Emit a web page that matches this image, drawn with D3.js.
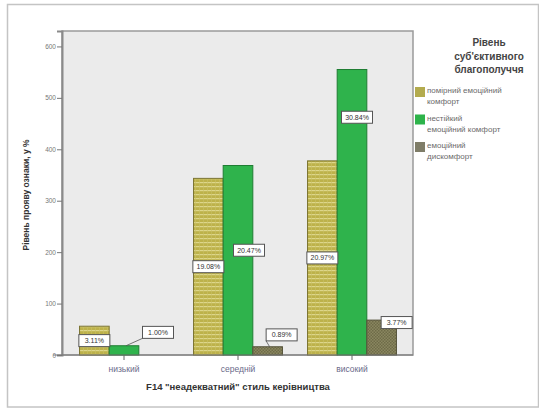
<!DOCTYPE html>
<html>
<head>
<meta charset="utf-8">
<script src="https://cdn.jsdelivr.net/npm/d3@7/dist/d3.min.js"></script>
<style>
  html, body { margin: 0; padding: 0; background: #fff; }
  svg { display: block; font-family: Arial, "Liberation Sans", sans-serif; }
</style>
</head>
<body>
<svg id="chart" width="539" height="408"></svg>
<script>
// Levels of the "inadequate" leadership style
const categories = ["низький", "середній", "високий"];
// Levels of subjective well-being
const seriesNames = ["помірний емоційний комфорт", "нестійкий емоційний комфорт", "емоційний дискомфорт"];
// Share of the whole sample, %
const moderateComfort = [3.11, 19.08, 20.97];
const unstableComfort = [1.00, 20.47, 30.84];
const discomfort = [0.00, 0.89, 3.77];
const sampleTotal = 1800;
const yTicks = [0, 100, 200, 300, 400, 500, 600];

const seriesPct = [moderateComfort, unstableComfort, discomfort];

const svg = d3.select("#chart");

// Outer frame
svg.append("rect").attr("x", 7.5).attr("y", 4.5).attr("width", 531).attr("height", 402.5)
  .attr("fill", "#fff").attr("stroke", "#c4c4c4").attr("stroke-width", 1.5);

const plot = { left: 62, right: 413, top: 31, bottom: 355 };

const defs = svg.append("defs");
// Horizontal hatch for the first series
const p1 = defs.append("pattern").attr("id", "hatchH").attr("patternUnits", "userSpaceOnUse")
  .attr("width", 4).attr("height", 4);
p1.append("rect").attr("width", 4).attr("height", 4).attr("fill", "#bdb24a");
p1.append("rect").attr("y", 2).attr("width", 4).attr("height", 1.2).attr("fill", "#ddd68a");
p1.append("rect").attr("x", 3).attr("width", 0.6).attr("height", 4).attr("fill", "#c9c066");
// Checker for the third series
const p3 = defs.append("pattern").attr("id", "checker").attr("patternUnits", "userSpaceOnUse")
  .attr("width", 3).attr("height", 3);
p3.append("rect").attr("width", 3).attr("height", 3).attr("fill", "#8a8760");
p3.append("rect").attr("width", 1.5).attr("height", 1.5).attr("fill", "#6e6b48");
p3.append("rect").attr("x", 1.5).attr("y", 1.5).attr("width", 1.5).attr("height", 1.5).attr("fill", "#6e6b48");

const fills = ["url(#hatchH)", "#2fb34c", "url(#checker)"];
const strokes = ["#7a7330", "#1f7d33", "#55533a"];
const swatches = ["#b3ab4e", "#2db34a", "#7f7d68"];

// Plot background
svg.append("rect").attr("x", plot.left).attr("y", plot.top)
  .attr("width", plot.right - plot.left).attr("height", plot.bottom - plot.top)
  .attr("fill", "#ebebeb").attr("stroke", "#9a9a9a").attr("stroke-width", 1.5);

const x = d3.scaleBand().domain(categories).range([67, 409]).paddingInner(0.22).paddingOuter(0.11);
const xs = d3.scaleBand().domain(d3.range(seriesNames.length)).range([0, x.bandwidth()]);
const y = d3.scaleLinear().domain([0, 630]).range([plot.bottom, plot.top]);

// Y axis
const yAxis = d3.axisLeft(y).tickValues(yTicks).tickSize(5).tickFormat(d3.format("d"));
const gy = svg.append("g").attr("transform", `translate(${plot.left},0)`).call(yAxis);
gy.select(".domain").attr("stroke", "#8a8a8a").attr("stroke-width", 2);
gy.selectAll(".tick line").attr("stroke", "#777");
gy.selectAll(".tick text").attr("fill", "#777").attr("font-size", 6.5).attr("x", -6);

// X axis
const xAxis = d3.axisBottom(x).tickSize(5).tickSizeOuter(0);
const gx = svg.append("g").attr("transform", `translate(0,${plot.bottom})`).call(xAxis);
gx.select(".domain").remove();
gx.selectAll(".tick line").attr("stroke", "#666");
gx.selectAll(".tick text").attr("fill", "#6a6a8a").attr("font-size", 8.5).attr("dy", "1.1em");

// Bars
const bars = [];
categories.forEach((c, ci) => {
  seriesPct.forEach((arr, si) => {
    bars.push({ c, ci, si, pct: arr[ci], value: arr[ci] / 100 * sampleTotal });
  });
});

svg.append("g").selectAll("rect").data(bars).join("rect")
  .attr("x", d => x(d.c) + xs(d.si))
  .attr("y", d => y(d.value))
  .attr("width", xs.bandwidth())
  .attr("height", d => y(0) - y(d.value))
  .attr("fill", d => fills[d.si])
  .attr("stroke", d => strokes[d.si])
  .attr("stroke-width", 1);

// Baseline across the plot
svg.append("line").attr("x1", 53).attr("x2", plot.right).attr("y1", y(0)).attr("y2", y(0))
  .attr("stroke", "#777").attr("stroke-width", 1.2);

// Value labels: offsets from the bar's mid-point, leader lines where the box sits off the bar
const labelShift = [
  [[0, 0], [34, -18], null],
  [[0, 0], [11, -10], [14, -16]],
  [[0, 0], [5, -95], [15, -15]]
];
const lg = svg.append("g");
bars.filter(d => d.pct > 0).forEach(d => {
  const [dx, dy] = labelShift[d.ci][d.si];
  const bx = x(d.c) + xs(d.si) + xs.bandwidth() / 2;
  const by = (y(d.value) + y(0)) / 2;
  const cx = bx + dx, cy = by + dy;
  const w = 31, h = 12;
  if (Math.abs(dx) > 12) {
    lg.append("line").attr("x1", cx - w / 2).attr("y1", cy + h / 2)
      .attr("x2", bx + 2).attr("y2", y(d.value))
      .attr("stroke", "#555").attr("stroke-width", 0.8);
  }
  lg.append("rect").attr("x", cx - w / 2).attr("y", cy - h / 2).attr("width", w).attr("height", h)
    .attr("fill", "#fff").attr("stroke", "#555").attr("stroke-width", 1);
  lg.append("text").attr("x", cx).attr("y", cy + 2.5).attr("text-anchor", "middle")
    .attr("font-size", 7).attr("fill", "#333").text(d3.format(".2f")(d.pct) + "%");
});

// Axis titles
svg.append("text").attr("transform", `translate(29,${(plot.top + plot.bottom) / 2 + 2}) rotate(-90)`)
  .attr("text-anchor", "middle").attr("font-size", 8.5).attr("font-weight", "bold").attr("fill", "#333")
  .text("Рівень прояву ознаки, у %");
svg.append("text").attr("x", 238).attr("y", 390).attr("text-anchor", "middle")
  .attr("font-size", 9.5).attr("font-weight", "bold").attr("fill", "#333")
  .text("F14 \"неадекватний\" стиль керівництва");

// Legend
const legendTitle = ["Рівень", "суб'єктивного", "благополуччя"];
svg.append("g").selectAll("text").data(legendTitle).join("text")
  .attr("x", 489).attr("y", (d, i) => 46 + i * 13.5).attr("text-anchor", "middle")
  .attr("font-size", 10).attr("font-weight", "bold").attr("fill", "#444").text(d => d);

const legendLines = [["помірний емоційний", "комфорт"], ["нестійкий", "емоційний комфорт"], ["емоційний", "дискомфорт"]];
const legend = svg.append("g");
legendLines.forEach((lines, i) => {
  const top = 87 + i * 27.5;
  legend.append("rect").attr("x", 415).attr("y", top).attr("width", 10).attr("height", 10)
    .attr("fill", swatches[i]);
  lines.forEach((t, j) => {
    legend.append("text").attr("x", 427).attr("y", top + 6 + j * 11)
      .attr("font-size", 8).attr("fill", "#6a6a6a").text(t);
  });
});
</script>
</body>
</html>
